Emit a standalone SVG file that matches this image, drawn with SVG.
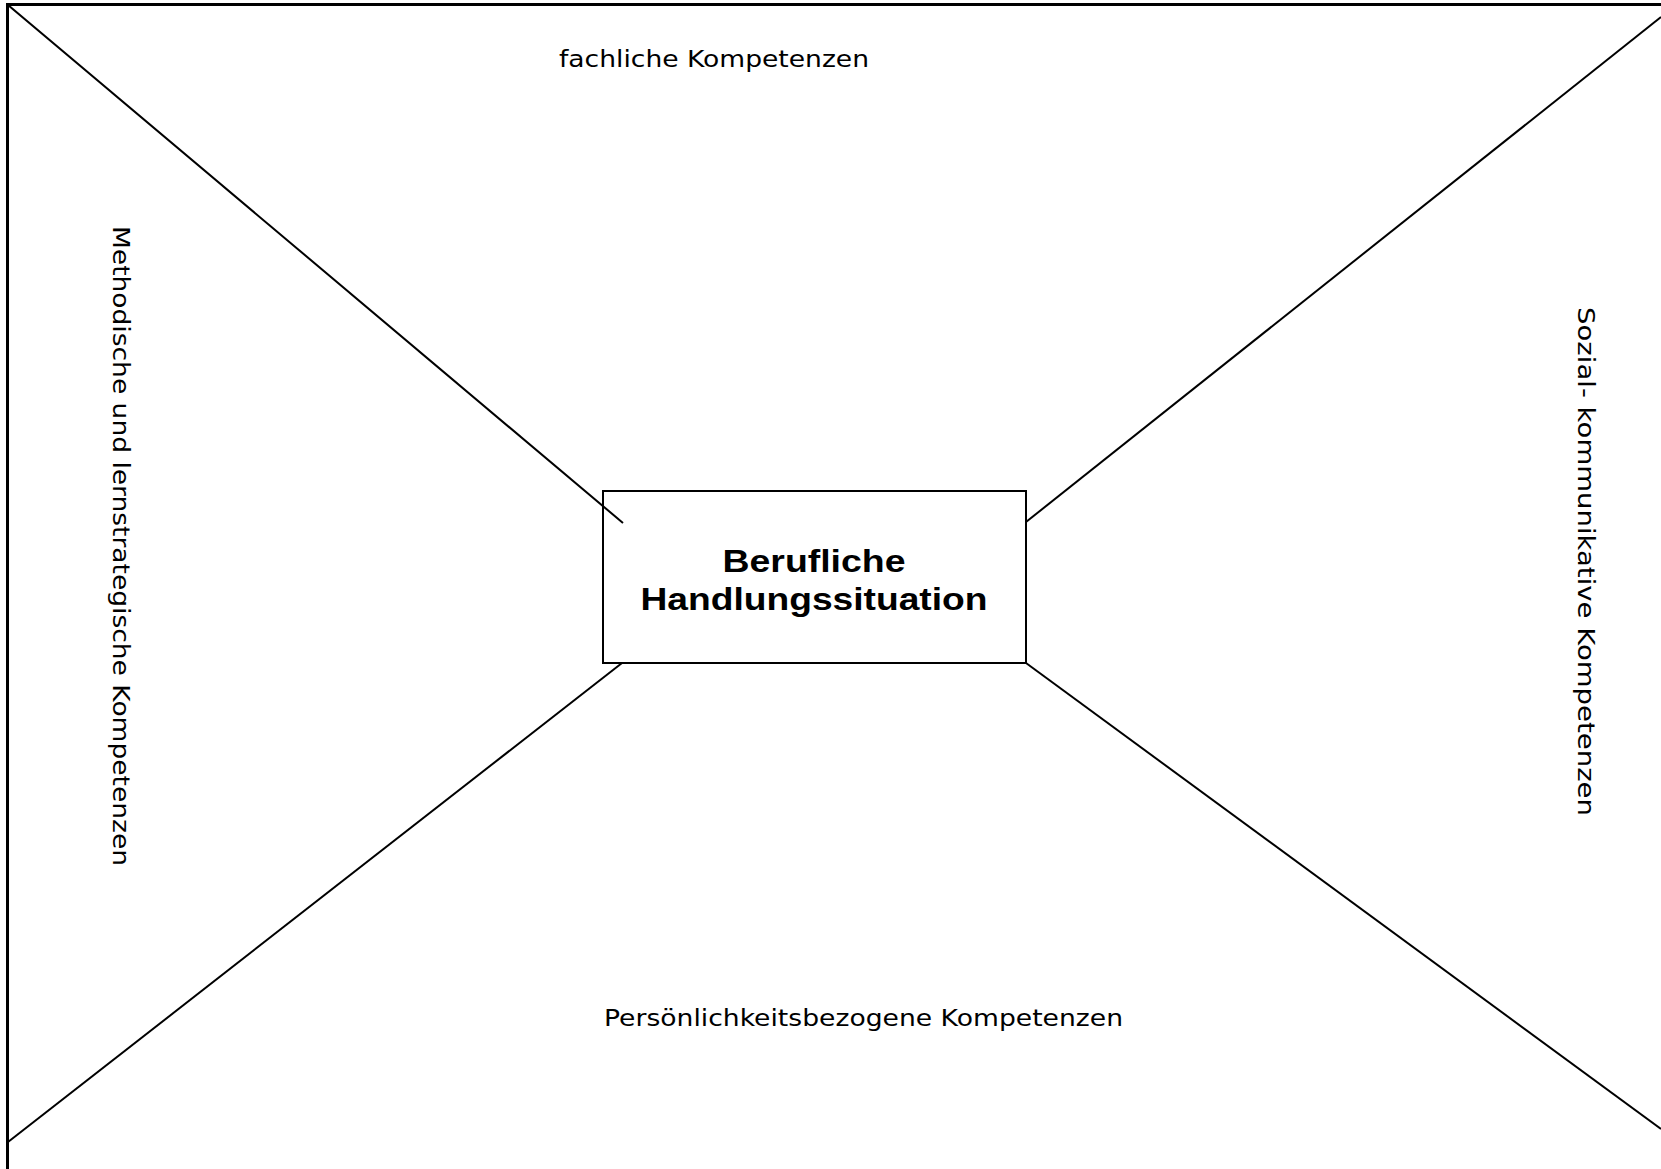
<svg xmlns="http://www.w3.org/2000/svg" width="1661" height="1169" viewBox="0 0 1661 1169">
<style>
.frame{fill:none;stroke:#000;stroke-width:3}
.conn line{stroke:#000;stroke-width:2}
.box{fill:#fff;stroke:#000;stroke-width:2}
.lbl{font-family:"DejaVu Sans","Liberation Sans",sans-serif;font-size:23px;fill:#000}
.title{font-family:"Liberation Sans","DejaVu Sans",sans-serif;font-size:32px;font-weight:bold;fill:#000;text-anchor:middle}
</style>
<rect width="1661" height="1169" fill="#fff"/>
<polyline class="frame" points="7.5,1169 7.5,4.5 1661,4.5"/>
<g id="node-center">
<rect class="box" x="603" y="491" width="423" height="172"/>
<text class="title" x="814" y="572" textLength="183" lengthAdjust="spacingAndGlyphs">Berufliche</text>
<text class="title" x="814" y="610" textLength="347" lengthAdjust="spacingAndGlyphs">Handlungssituation</text>
</g>
<g id="connectors" class="conn">
<line x1="8" y1="5" x2="623" y2="523"/>
<line x1="1661" y1="17" x2="1026" y2="522"/>
<line x1="8" y1="1142" x2="622" y2="663"/>
<line x1="1026" y1="663" x2="1661" y2="1129"/>
</g>
<g id="label-top">
<text class="lbl" x="559" y="67" textLength="310" lengthAdjust="spacingAndGlyphs">fachliche Kompetenzen</text>
</g>
<g id="label-bottom">
<text class="lbl" x="604" y="1026" textLength="519" lengthAdjust="spacingAndGlyphs">Persönlichkeitsbezogene Kompetenzen</text>
</g>
<g id="label-left">
<text class="lbl" transform="translate(113,226) rotate(90)" x="0" y="0" textLength="640" lengthAdjust="spacingAndGlyphs">Methodische und lernstrategische Kompetenzen</text>
</g>
<g id="label-right">
<text class="lbl" transform="translate(1578,307) rotate(90)" x="0" y="0" textLength="509" lengthAdjust="spacingAndGlyphs">Sozial- kommunikative Kompetenzen</text>
</g>
</svg>
